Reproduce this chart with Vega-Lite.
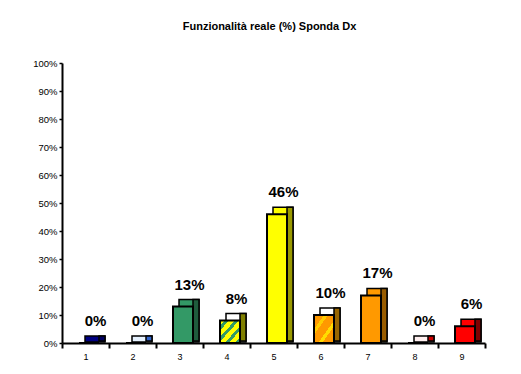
{
  "$schema": "https://vega.github.io/schema/vega-lite/v6.json",
  "autosize": {"type": "none"},
  "width": 423,
  "height": 280,
  "padding": {"left": 62, "top": 63, "right": 36, "bottom": 31},
  "background": "white",
  "config": {"view": {"stroke": null}, "font": "Liberation Sans"},
  "title": {"text": "Funzionalità reale (%) Sponda Dx", "fontSize": 11, "fontWeight": "bold", "font": "Liberation Sans", "color": "black", "offset": 26, "dx": -4},
  "data": {"values": [
    {"cat": "1", "value": 0.00},
    {"cat": "2", "value": 0.00},
    {"cat": "3", "value": 0.13},
    {"cat": "4", "value": 0.08},
    {"cat": "5", "value": 0.46},
    {"cat": "6", "value": 0.10},
    {"cat": "7", "value": 0.17},
    {"cat": "8", "value": 0.00},
    {"cat": "9", "value": 0.06}
  ]},
  "resolve": {"scale": {"fill": "independent"}},
  "encoding": {
    "x": {"field": "cat", "type": "ordinal", "sort": null, "title": null,
      "scale": {"paddingInner": 0, "paddingOuter": 0},
      "axis": {"labelAngle": 0, "domainColor": "black", "domainWidth": 2, "tickColor": "black", "tickWidth": 2, "tickSize": 5, "tickBand": "extent", "labelFontSize": 9, "labelColor": "black", "labelPadding": 4, "labelFont": "Liberation Sans"}},
    "y": {"field": "value", "type": "quantitative", "title": null,
      "scale": {"domain": [0, 1], "nice": false},
      "axis": {"format": ".0%", "values": [0, 0.1, 0.2, 0.3, 0.4, 0.5, 0.6, 0.7, 0.8, 0.9, 1], "grid": false, "domainColor": "black", "domainWidth": 2, "tickColor": "black", "tickWidth": 1.5, "tickSize": 3, "labelFontSize": 9.5, "labelColor": "black", "labelPadding": 2, "labelFont": "Liberation Sans"}}
  },
  "layer": [
    {
      "mark": {"type": "bar", "width": 20, "xOffset": 9.5, "yOffset": -7, "y2Offset": -1, "stroke": "black", "strokeWidth": 1.5},
      "encoding": {
        "y2": {"datum": 0},
        "fill": {"field": "cat", "type": "nominal", "legend": null,
          "scale": {"domain": ["1","2","3","4","5","6","7","8","9"], "range": ["#000080", "#E6F2FF", "#339966", "#FFFFFF", "#FFFF00", "#FFFFFF", "#FF9900", "#FFF0F0", "#FF0000"]}}
      }
    },
    {
      "mark": {"type": "bar", "width": 6, "xOffset": 16.5, "yOffset": -7, "y2Offset": -2, "stroke": "black", "strokeWidth": 1.5},
      "encoding": {
        "y2": {"datum": 0},
        "fill": {"field": "cat", "type": "nominal", "legend": null,
          "scale": {"domain": ["1","2","3","4","5","6","7","8","9"], "range": ["#000060", "#3366CC", "#1F5C3D", "#808000", "#999900", "#996600", "#995C00", "#CC0000", "#800000"]}}
      }
    },
    {
      "mark": {"type": "bar", "width": 20, "xOffset": 3.5, "stroke": "black", "strokeWidth": 2},
      "encoding": {
        "fill": {
          "condition": [
            {"test": "datum.cat === '4'", "value": {"gradient": "linear", "x1": 0, "y1": 0, "x2": 1, "y2": 1, "stops": [
              {"offset": 0, "color": "#FFFF00"}, {"offset": 0.12, "color": "#FFFF00"}, {"offset": 0.12, "color": "#339966"}, {"offset": 0.22, "color": "#339966"},
              {"offset": 0.22, "color": "#FFFF00"}, {"offset": 0.37, "color": "#FFFF00"}, {"offset": 0.37, "color": "#339966"}, {"offset": 0.47, "color": "#339966"},
              {"offset": 0.47, "color": "#FFFF00"}, {"offset": 0.62, "color": "#FFFF00"}, {"offset": 0.62, "color": "#339966"}, {"offset": 0.72, "color": "#339966"},
              {"offset": 0.72, "color": "#FFFF00"}, {"offset": 0.87, "color": "#FFFF00"}, {"offset": 0.87, "color": "#339966"}, {"offset": 0.97, "color": "#339966"},
              {"offset": 0.97, "color": "#FFFF00"}, {"offset": 1, "color": "#FFFF00"}]}},
            {"test": "datum.cat === '6'", "value": {"gradient": "linear", "x1": 0, "y1": 0, "x2": 1, "y2": 1, "stops": [
              {"offset": 0, "color": "#FF9900"}, {"offset": 0.25, "color": "#FF9900"}, {"offset": 0.25, "color": "#FFCC00"}, {"offset": 0.35, "color": "#FFCC00"},
              {"offset": 0.35, "color": "#FF9900"}, {"offset": 0.6, "color": "#FF9900"}, {"offset": 0.6, "color": "#FFDD00"}, {"offset": 0.7, "color": "#FFDD00"},
              {"offset": 0.7, "color": "#FF9900"}, {"offset": 1, "color": "#FF9900"}]}}
          ],
          "field": "cat", "type": "nominal", "legend": null,
          "scale": {"domain": ["1","2","3","4","5","6","7","8","9"], "range": ["#000080", "#CCFFFF", "#339966", "#FFFF00", "#FFFF00", "#FF9900", "#FF9900", "#FFCCCC", "#FF0000"]}
        }
      }
    },
    {
      "mark": {"type": "text", "dx": 10, "dy": -17, "baseline": "alphabetic", "align": "center", "fontSize": 15, "fontWeight": "bold", "font": "Liberation Sans", "color": "black"},
      "encoding": {"text": {"field": "value", "type": "quantitative", "format": ".0%"}}
    }
  ]
}
